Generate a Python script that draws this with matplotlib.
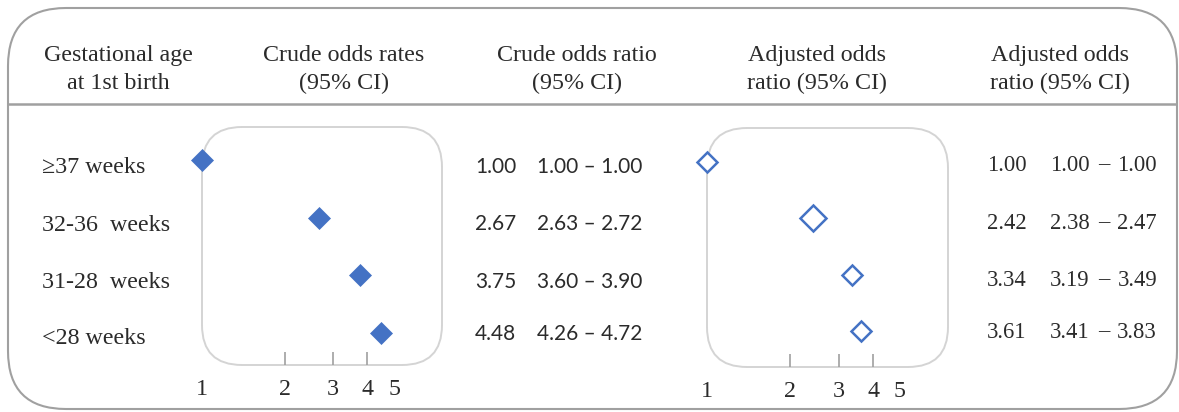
import matplotlib
matplotlib.use("Agg")
import matplotlib.pyplot as plt
from matplotlib.patches import FancyBboxPatch
from matplotlib.ticker import FixedLocator, FixedFormatter, NullFormatter
import numpy as np

# ---------------- data ----------------
header_line1 = ["Gestational age", "Crude odds rates", "Crude odds ratio", "Adjusted odds", "Adjusted odds"]
header_line2 = ["at 1st birth", "(95% CI)", "(95% CI)", "ratio (95% CI)", "ratio (95% CI)"]
categories = ["\u226537 weeks", "32-36  weeks", "31-28  weeks", "<28 weeks"]
crude_or = [1.00, 2.67, 3.75, 4.48]
crude_lo = [1.00, 2.63, 3.60, 4.26]
crude_hi = [1.00, 2.72, 3.90, 4.72]
adj_or = [1.00, 2.42, 3.34, 3.61]
adj_lo = [1.00, 2.38, 3.19, 3.41]
adj_hi = [1.00, 2.47, 3.49, 3.83]
tick_values = [1, 2, 3, 4, 5]
tick_labels = ["1", "2", "3", "4", "5"]
tick_mark_values = [2, 3, 4]

# ---------------- style ----------------
W, H = 1179, 412
SERIF = "Liberation Serif"
SANS = "Lato"
TXT = "#2b2b2b"
BLUE = "#4472C4"
FRAME = "#a0a0a0"
PANEL = "#d4d4d4"
FS = 17.3

fig = plt.figure(figsize=(W / 100, H / 100), dpi=100)
ax0 = fig.add_axes([0, 0, 1, 1])
ax0.set_xlim(0, W)
ax0.set_ylim(H, 0)
ax0.axis("off")

# outer rounded frame and header rule
ax0.add_patch(FancyBboxPatch((8, 8), 1169, 401,
                             boxstyle="round,pad=0,rounding_size=58",
                             fc="white", ec=FRAME, lw=1.5))
ax0.plot([8, 1177], [104, 104], color=FRAME, lw=1.8, solid_capstyle="butt")

# header
col_centers = [118, 344, 577, 817, 1060]
for cx, l1, l2 in zip(col_centers, header_line1, header_line2):
    ax0.text(cx, 55, l1, ha="center", va="center", family=SERIF, fontsize=FS, color=TXT)
    ax0.text(cx, 83, l2, ha="center", va="center", family=SERIF, fontsize=FS, color=TXT)

# rows
label_y = [167, 225, 283, 338]
crude_y = [167, 224, 282, 334]
adj_y = [165, 223, 280, 332]
for y, c in zip(label_y, categories):
    ax0.text(42, y, c, ha="left", va="center", family=SERIF, fontsize=FS, color=TXT)
for y, v, lo, hi in zip(crude_y, crude_or, crude_lo, crude_hi):
    ax0.text(475, y, f"{v:.2f}", ha="left", va="center", family=SANS, fontsize=15, color=TXT)
    ax0.text(537, y, f"{lo:.2f} \u2013 {hi:.2f}", ha="left", va="center", family=SANS, fontsize=15, color=TXT)
for y, v, lo, hi in zip(adj_y, adj_or, adj_lo, adj_hi):
    ax0.text(987, y, f"{v:.2f}", ha="left", va="center", family=SERIF, fontsize=16.3, color=TXT)
    ax0.text(1050, y, f"{lo:.2f}", ha="left", va="center", family=SERIF, fontsize=16.3, color=TXT)
    ax0.text(1104, y, "\u2013", ha="center", va="center", family=SERIF, fontsize=16.3, color=TXT)
    ax0.text(1157, y, f"{hi:.2f}", ha="right", va="center", family=SERIF, fontsize=16.3, color=TXT)


def forest(box, row0, step, vals, lo, hi, filled, sizes):
    left, right, top, bottom = box
    ax0.add_patch(FancyBboxPatch((left, top), right - left, bottom - top,
                                 boxstyle="round,pad=0,rounding_size=40",
                                 fc="none", ec=PANEL, lw=1.4))
    ax = fig.add_axes([left / W, (H - bottom) / H, (right - left) / W, (bottom - top) / H])
    ax.patch.set_visible(False)
    for s in ax.spines.values():
        s.set_visible(False)
    ax.set_xscale("log")
    ax.set_xlim(1, 7.47)
    ax.set_ylim((bottom - row0) / step, (top - row0) / step)
    ax.set_yticks([])
    ax.xaxis.remove_overlapping_locs = False
    ax.xaxis.set_major_locator(FixedLocator(tick_values))
    ax.xaxis.set_major_formatter(FixedFormatter(tick_labels))
    ax.xaxis.set_minor_locator(FixedLocator(tick_mark_values))
    ax.xaxis.set_minor_formatter(NullFormatter())
    ax.tick_params(axis="x", which="major", length=0, pad=10, labelsize=FS, labelcolor=TXT)
    ax.tick_params(axis="x", which="minor", direction="in", length=9.4, width=1.2, color=FRAME)
    for lab in ax.get_xticklabels():
        lab.set_family(SERIF)
    v = np.array(vals)
    y = np.arange(len(v))
    ax.errorbar(v, y, xerr=[v - np.array(lo), np.array(hi) - v], fmt="none",
                ecolor=BLUE, elinewidth=1.0, capsize=0, clip_on=False, zorder=2)
    for xi, yi, ms in zip(v, y, sizes):
        if filled:
            ax.plot([xi], [yi], marker="D", ms=ms, mfc=BLUE, mec=BLUE, mew=0.5,
                    ls="none", clip_on=False, zorder=3)
        else:
            ax.plot([xi], [yi], marker="D", ms=ms, mfc="white", mec=BLUE, mew=1.8,
                    ls="none", clip_on=False, zorder=3)
    return ax


forest((202, 442, 127, 365), 160, 57.7, crude_or, crude_lo, crude_hi, True, [11.3, 11.3, 11.3, 11.3])
forest((707, 948, 128, 367), 162, 56.3, adj_or, adj_lo, adj_hi, False, [10.3, 13.3, 10.3, 10.3])

fig.savefig("out.png", dpi=100)
